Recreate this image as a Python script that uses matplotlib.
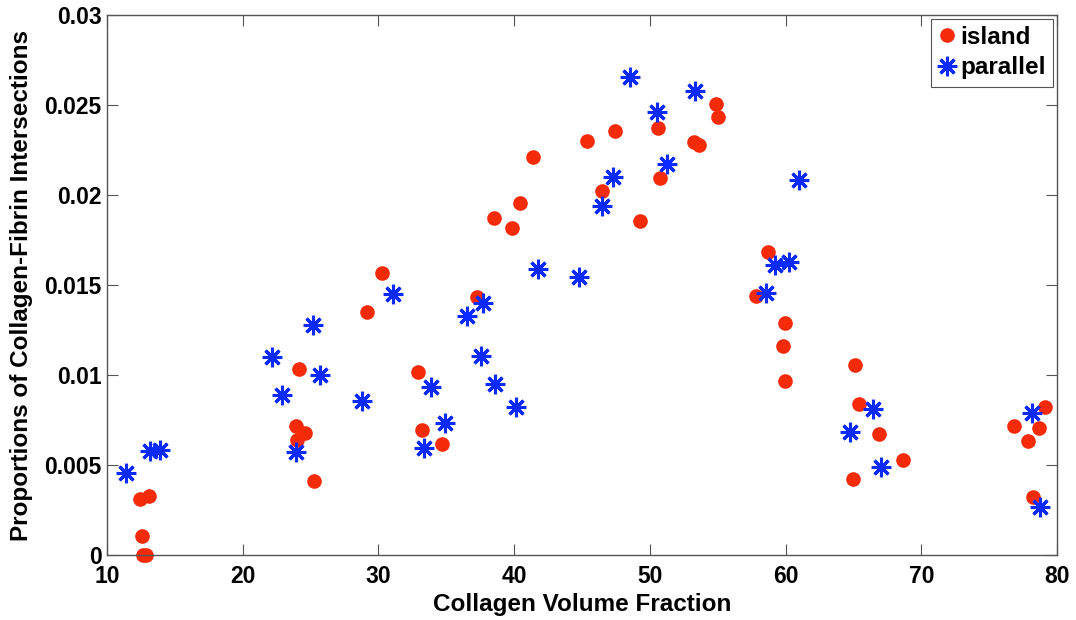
import matplotlib
matplotlib.use("Agg")
import matplotlib.pyplot as plt
import numpy as np

plt.rcParams['font.family'] = ['Liberation Sans', 'DejaVu Sans']
plt.rcParams['font.weight'] = 'bold'

# island data (collagen volume fraction, proportion of intersections)
island_x = [12.42, 13.10, 12.54, 12.66, 12.90, 24.18, 23.90, 24.60, 23.99, 25.24,
            29.16, 30.27, 32.93, 33.20, 34.70, 37.28, 38.51, 39.87, 40.43, 41.39,
            45.40, 46.46, 47.44, 49.29, 50.57, 50.77, 53.28, 53.65, 54.89, 55.00,
            57.84, 58.70, 59.93, 59.81, 59.98, 65.00, 65.15, 65.42, 66.90, 68.67,
            76.84, 77.83, 78.20, 78.69, 79.13]
island_y = [0.00309, 0.00329, 0.00106, 0.0, 0.0, 0.01032, 0.00719, 0.00676, 0.00639, 0.00411,
            0.01350, 0.01568, 0.01019, 0.00694, 0.00617, 0.01435, 0.01870, 0.01815, 0.01954, 0.02213,
            0.02302, 0.02020, 0.02356, 0.01856, 0.02374, 0.02096, 0.02293, 0.02278, 0.02504, 0.02432,
            0.01440, 0.01685, 0.01287, 0.01161, 0.00967, 0.00420, 0.01054, 0.00839, 0.00672, 0.00528,
            0.00717, 0.00635, 0.00324, 0.00704, 0.00822]

# parallel data
parallel_x = [11.38, 13.16, 13.90, 22.14, 22.88, 23.94, 25.20, 25.70, 28.80, 31.08,
              33.39, 33.90, 34.94, 36.49, 37.53, 37.73, 38.58, 40.11, 41.79, 44.76,
              46.51, 47.25, 48.56, 50.50, 51.24, 53.35, 58.57, 59.24, 60.22, 60.99,
              64.78, 66.45, 67.07, 78.15, 78.72]
parallel_y = [0.00454, 0.00579, 0.00583, 0.01098, 0.00891, 0.00574, 0.01278, 0.01000, 0.00856, 0.01450,
              0.00593, 0.00932, 0.00732, 0.01328, 0.01104, 0.01402, 0.00948, 0.00820, 0.01590, 0.01546,
              0.01940, 0.02102, 0.02657, 0.02463, 0.02172, 0.02580, 0.01454, 0.01611, 0.01626, 0.02083,
              0.00685, 0.00811, 0.00491, 0.00790, 0.00265]

x_ticks = [10, 20, 30, 40, 50, 60, 70, 80]
y_ticks = [0, 0.005, 0.01, 0.015, 0.02, 0.025, 0.03]
y_tick_labels = ['0', '0.005', '0.01', '0.015', '0.02', '0.025', '0.03']

red = '#f42a08'
blue = '#0a2aff'

fig = plt.figure(figsize=(10.76, 6.2), dpi=100)
ax = fig.add_axes([0.0995, 0.1048, 0.8828, 0.871])

ax.plot(island_x, island_y, 'o', color=red, markersize=9.5, mec=red, label='island',
        clip_on=False)
ax.plot(parallel_x, parallel_y, ls='none', marker=(8, 2, 0), color=blue, mec=blue,
        markersize=14, mew=2.2, label='parallel', clip_on=False)

ax.set_xlim(10, 80)
ax.set_ylim(0, 0.03)
ax.set_xticks(x_ticks)
ax.set_yticks(y_ticks)
ax.set_yticklabels(y_tick_labels)

for s in ax.spines.values():
    s.set_color('#555555')
    s.set_linewidth(1.0)
ax.tick_params(direction='in', length=8, width=0.8, color='#555555',
               top=True, right=True, labelsize=16.5)
ax.tick_params(axis='x', pad=7)
ax.tick_params(axis='y', pad=4)
for lab in ax.get_xticklabels() + ax.get_yticklabels():
    lab.set_fontweight('bold')

ax.set_xlabel('Collagen Volume Fraction', fontsize=17.5, fontweight='bold', labelpad=4)
ax.set_ylabel('Proportions of Collagen-Fibrin Intersections', fontsize=17.5,
              fontweight='bold', labelpad=8)

leg = ax.legend(loc='upper right', fancybox=False, framealpha=1, edgecolor='#555555',
                prop={'size': 17.5, 'weight': 'bold'}, handlelength=0.7,
                handletextpad=0.2, borderpad=0.3, labelspacing=0.3,
                borderaxespad=0.15)
leg.get_frame().set_linewidth(0.8)

fig.savefig('out.png', dpi=100)
